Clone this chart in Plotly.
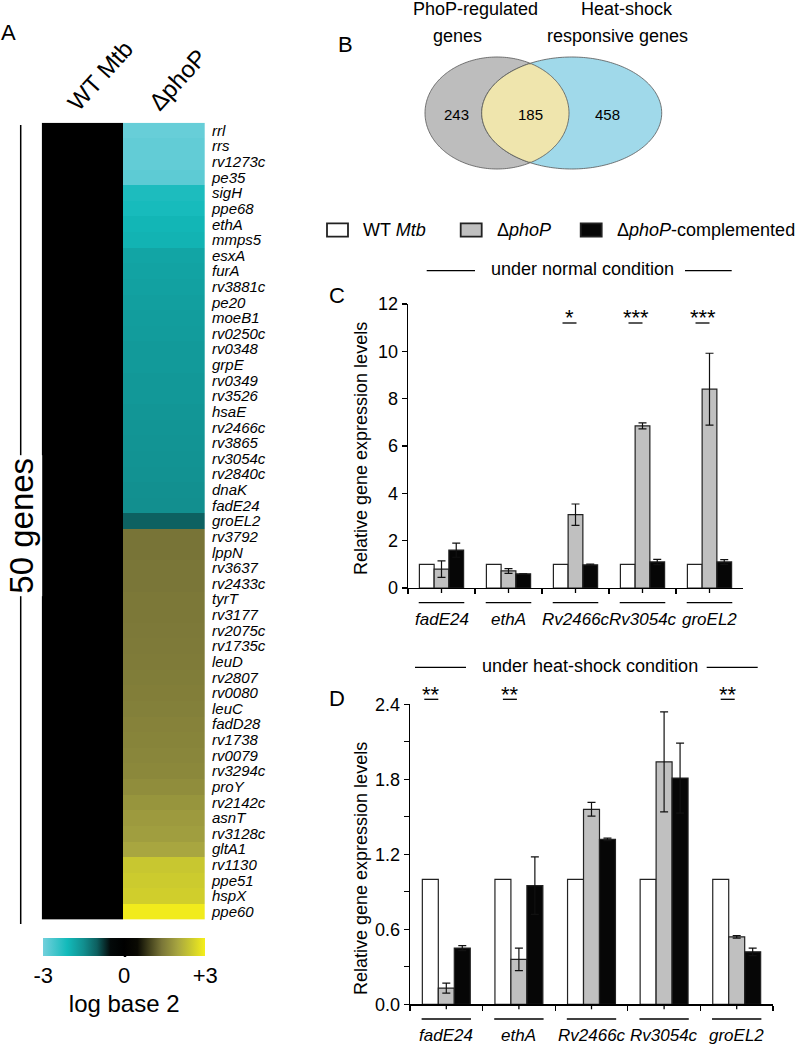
import numpy as np
import plotly.graph_objects as go

W, H = 800, 1046
def X(px): return px / W
def Y(py): return 1 - py / H

FONT = "Liberation Sans, Arial, sans-serif"

# ---------------- Panel A data ----------------
heat_columns = ["WT Mtb", "ΔphoP"]
heat_genes = ["rrl", "rrs", "rv1273c", "pe35", "sigH", "ppe68", "ethA", "mmps5", "esxA", "furA",
              "rv3881c", "pe20", "moeB1", "rv0250c", "rv0348", "grpE", "rv0349", "rv3526", "hsaE", "rv2466c",
              "rv3865", "rv3054c", "rv2840c", "dnaK", "fadE24", "groEL2", "rv3792", "lppN", "rv3637", "rv2433c",
              "tyrT", "rv3177", "rv2075c", "rv1735c", "leuD", "rv2807", "rv0080", "leuC", "fadD28", "rv1738",
              "rv0079", "rv3294c", "proY", "rv2142c", "asnT", "rv3128c", "gltA1", "rv1130", "ppe51", "hspX", "ppe60"]
heat_wt = [0, 0, 0, 0, 0, 0, 0, 0, 0, 0, 0, 0, 0, 0, 0, 0, 0, 0, 0, 0, 0, 0, 0, 0, 0, 0,
           0, 0, 0, 0, 0, 0, 0, 0, 0, 0, 0, 0, 0, 0, 0, 0, 0, 0, 0, 0, 0, 0, 0, 0, 0]
heat_phoP = [-2.9, -2.85, -2.85, -2.8, -2.2, -2.15, -2.05, -2.0, -1.8, -1.78,
             -1.75, -1.72, -1.7, -1.68, -1.66, -1.65, -1.63, -1.62, -1.6, -1.58,
             -1.57, -1.55, -1.54, -1.52, -1.5, -1.02, 1.38, 1.38, 1.4, 1.4,
             1.42, 1.42, 1.44, 1.45, 1.46, 1.48, 1.5, 1.52, 1.55, 1.57,
             1.6, 1.62, 1.68, 1.78, 1.85, 1.9, 2.0, 2.45, 2.5, 2.55, 2.95]
cbar_ticks = [-3, 0, 3]
cbar_ticktext = ["-3", "0", "+3"]

# ---------------- Panel B data ----------------
venn_titles = ["PhoP-regulated", "genes", "Heat-shock", "responsive genes"]
venn_counts = ["243", "185", "458"]

# ---------------- Panel C / D data ----------------
bar_genes = ["fadE24", "ethA", "Rv2466c", "Rv3054c", "groEL2"]
series_names = ["WT Mtb", "ΔphoP", "ΔphoP-complemented"]

normal_wt = [1.0, 1.0, 1.0, 1.0, 1.0]
normal_phoP = [0.8, 0.72, 3.1, 6.85, 8.4]
normal_phoP_err = [0.35, 0.1, 0.45, 0.13, 1.52]
normal_comp = [1.6, 0.6, 0.98, 1.1, 1.1]
normal_comp_err = [0.3, 0.0, 0.03, 0.11, 0.1]
normal_sig = ["", "", "*", "***", "***"]

heat_wt_bar = [1.0, 1.0, 1.0, 1.0, 1.0]
heat_phoP_bar = [0.13, 0.36, 1.56, 1.94, 0.54]
heat_phoP_err = [0.04, 0.09, 0.055, 0.4, 0.01]
heat_comp_bar = [0.45, 0.95, 1.32, 1.81, 0.42]
heat_comp_err = [0.02, 0.23, 0.01, 0.28, 0.03]
heat_sig = ["**", "**", "", "", "**"]

# colour scale for log2 fold change
colorscale = [
    [0.0, "#72d0dc"], [0.15, "#12baba"], [0.25, "#128f8f"], [0.333, "#0d5f5f"],
    [0.417, "#030909"], [0.5, "#000000"], [0.583, "#0a0a03"], [0.667, "#4a4820"],
    [0.733, "#7a7638"], [0.833, "#a8a640"], [0.917, "#cccb2e"], [1.0, "#f5ef1a"],
]

fig = go.Figure()

# ---------- heatmap ----------
fig.add_trace(go.Heatmap(
    x=heat_columns, y=heat_genes,
    z=[[a, b] for a, b in zip(heat_wt, heat_phoP)],
    zmin=-3, zmax=3, colorscale=colorscale, xaxis="x", yaxis="y",
    hoverinfo="skip",
    colorbar=dict(orientation="h", x=X(124.2), xanchor="center", y=Y(938.3), yanchor="top",
                  len=162, lenmode="pixels", thickness=18, thicknessmode="pixels",
                  xpad=0, ypad=0,
                  outlinewidth=0, tickmode="array", tickvals=cbar_ticks, ticktext=cbar_ticktext,
                  ticks="", tickfont=dict(size=22, color="black", family=FONT),
                  title=dict(text="log base 2", side="bottom", font=dict(size=24, color="black", family=FONT))),
))

# ---------- bars ----------
bar_line = dict(color="#222222", width=1.2)
def err(arr):
    return dict(type="data", array=arr, visible=True, color="#111111", thickness=1.2, width=4)

for xa, ya, wt, ph, phe, co, coe in [
    ("x2", "y2", normal_wt, normal_phoP, normal_phoP_err, normal_comp, normal_comp_err),
    ("x3", "y3", heat_wt_bar, heat_phoP_bar, heat_phoP_err, heat_comp_bar, heat_comp_err),
]:
    fig.add_trace(go.Bar(x=bar_genes, y=wt, name=series_names[0], xaxis=xa, yaxis=ya,
                         marker=dict(color="white", line=bar_line), showlegend=False))
    fig.add_trace(go.Bar(x=bar_genes, y=ph, name=series_names[1], xaxis=xa, yaxis=ya,
                         marker=dict(color="#c0c0c0", line=bar_line), error_y=err(phe), showlegend=False))
    fig.add_trace(go.Bar(x=bar_genes, y=co, name=series_names[2], xaxis=xa, yaxis=ya,
                         marker=dict(color="#060606", line=bar_line), error_y=err(coe), showlegend=False))

shapes = []
annotations = []

def text(x, y, t, size=18, xanchor="center", yanchor="middle", angle=0, xref="paper", yref="paper",
         family=FONT, **kw):
    annotations.append(dict(x=x, y=y, text=t, showarrow=False, xref=xref, yref=yref,
                            xanchor=xanchor, yanchor=yanchor, textangle=angle,
                            font=dict(size=size, color="black", family=family), **kw))

def hline(x0, x1, py, width=1.3, xref="paper"):
    shapes.append(dict(type="line", xref=xref, yref="paper", x0=x0, x1=x1, y0=Y(py), y1=Y(py),
                       line=dict(color="black", width=width)))

# ---------- panel A decorations ----------
text(X(8), Y(33), "A", size=22)
text(X(100), Y(75), "WT Mtb", size=24, angle=-48)
text(X(178), Y(80), "ΔphoP", size=24, angle=-48)
shapes.append(dict(type="line", xref="paper", yref="paper", x0=X(20.7), x1=X(20.7), y0=Y(125), y1=Y(924),
                   line=dict(color="black", width=1.5)))
text(X(20.7), Y(526), "50 genes", size=33, angle=-90, bgcolor="white", borderpad=2)
shapes.append(dict(type="line", xref="paper", yref="paper", x0=X(125), x1=X(125), y0=Y(951), y1=Y(957),
                   line=dict(color="black", width=2.5)))

# ---------- panel B : Venn ----------
text(X(345), Y(45), "B", size=22)
text(X(475), Y(9), venn_titles[0])
text(X(457), Y(36), venn_titles[1])
text(X(627), Y(9), venn_titles[2])
text(X(617), Y(36), venn_titles[3])

e1 = (497.0, 113.0, 72.0, 56.0)
e2 = (571.7, 113.0, 90.0, 56.0)
t = np.linspace(0, 2 * np.pi, 241)

def ell_pts(e):
    cx, cy, rx, ry = e
    return cx + rx * np.cos(t), cy + ry * np.sin(t)

def inside(e, x, y):
    cx, cy, rx, ry = e
    return ((x - cx) / rx) ** 2 + ((y - cy) / ry) ** 2 <= 1.0000001

def to_path(xs, ys):
    pts = [f"{X(a):.5f},{Y(b):.5f}" for a, b in zip(xs, ys)]
    return "M" + " L".join(pts) + " Z"

x1p, y1p = ell_pts(e1)
x2p, y2p = ell_pts(e2)
shapes.append(dict(type="path", xref="paper", yref="paper", path=to_path(x1p, y1p),
                   fillcolor="#bdbdbd", line=dict(color="#555555", width=0.8)))
shapes.append(dict(type="path", xref="paper", yref="paper", path=to_path(x2p, y2p),
                   fillcolor="#a0d9ea", line=dict(color="#555555", width=0.8)))
m1 = inside(e2, x1p, y1p)
m2 = inside(e1, x2p, y2p)
ix = np.concatenate([x1p[m1], x2p[m2]])
iy = np.concatenate([y1p[m1], y2p[m2]])
cxm, cym = ix.mean(), iy.mean()
order = np.argsort(np.arctan2(iy - cym, ix - cxm))
shapes.append(dict(type="path", xref="paper", yref="paper", path=to_path(ix[order], iy[order]),
                   fillcolor="#efe5ad", line=dict(color="#555555", width=0.8)))
for cnt, px in zip(venn_counts, [456.7, 530.7, 607.3]):
    text(X(px), Y(114), cnt, size=15)

# ---------- legend ----------
legend_boxes = [(327, "white"), (460.7, "#c0c0c0"), (580.7, "#060606")]
legend_texts = ["WT <i>Mtb</i>", "Δ<i>phoP</i>", "Δ<i>phoP</i>-complemented"]
for (bx, col), lt in zip(legend_boxes, legend_texts):
    shapes.append(dict(type="rect", xref="paper", yref="paper", x0=X(bx), x1=X(bx + 21),
                       y0=Y(236.7), y1=Y(223.3), fillcolor=col, line=dict(color="#222222", width=1.8)))
    text(X(bx + 34), Y(229.5), lt, size=18, xanchor="left")

# ---------- panel C decorations ----------
text(X(337), Y(296), "C", size=22)
text(X(582), Y(269.5), "under normal condition")
hline(X(426.7), X(475), 270.7)
hline(X(685), X(731.7), 270.7)
text(X(361), Y(449), "Relative gene expression levels", angle=-90)

# ---------- panel D decorations ----------
text(X(337), Y(698), "D", size=22)
text(X(590), Y(666), "under heat-shock condition")
hline(X(415), X(466), 667.3)
hline(X(706.7), X(757.7), 667.3)
text(X(361), Y(869), "Relative gene expression levels", angle=-90)

# gene labels, underlines, centre ticks and significance marks for C and D
for xref, base, sigs, shifts, sig_y in [
    ("x2", 588.0, normal_sig, [0, 0, -6, -7, -7], 323.0),
    ("x3", 1004.3, heat_sig, [-15, -9, 0, 0, -9], 699.3),
]:
    for i, g in enumerate(bar_genes):
        text(g, Y(base + 31), f"<i>{g}</i>", size=17, xref=xref)
        hline(i - 0.34, i + 0.34, base + 14.7, xref=xref)
        shapes.append(dict(type="line", xref=xref, yref="paper", x0=i, x1=i, y0=Y(base), y1=Y(base + 5),
                           line=dict(color="black", width=1.3)))
        if sigs[i]:
            text(g, Y(sig_y - 5), sigs[i], size=22, xref=xref, yanchor="middle", xshift=shifts[i])
            shapes.append(dict(type="line", xref=xref, yref="paper", xsizemode="pixel", xanchor=i,
                               x0=shifts[i] - 7, x1=shifts[i] + 7, y0=Y(sig_y), y1=Y(sig_y),
                               line=dict(color="black", width=1.3)))

axis_common = dict(showgrid=False, zeroline=False, showline=True, linecolor="black", linewidth=1.3,
                   ticks="outside", ticklen=5, tickwidth=1.3, tickcolor="black", automargin=False,
                   tickfont=dict(size=18, color="black", family=FONT))

fig.update_layout(
    template="none",
    width=W, height=H, margin=dict(l=0, r=0, t=0, b=0, pad=0, autoexpand=False),
    paper_bgcolor="white", plot_bgcolor="white", showlegend=False,
    font=dict(family=FONT, color="black"),
    barmode="group", bargap=0.34, bargroupgap=0,
    xaxis=dict(domain=[X(41.7), X(205)], anchor="y", showticklabels=False, showgrid=False,
               zeroline=False, ticks="", showline=False, automargin=False),
    yaxis=dict(domain=[Y(919.5), Y(122.7)], anchor="x", autorange="reversed", side="right",
               tickmode="array", tickvals=heat_genes, ticktext=[f"<i>{g}</i>" for g in heat_genes],
               tickfont=dict(size=15, color="black", family=FONT), ticks="", showgrid=False,
               zeroline=False, showline=False, ticklabelstandoff=6, automargin=False),
    xaxis2=dict(domain=[X(408), X(743)], anchor="y2", type="category", tickson="boundaries",
                showticklabels=False, **axis_common),
    yaxis2=dict(domain=[Y(588), Y(304)], anchor="x2", range=[0, 12], dtick=2, tick0=0, **axis_common),
    xaxis3=dict(domain=[X(410), X(773)], anchor="y3", type="category", tickson="boundaries",
                showticklabels=False, **axis_common),
    yaxis3=dict(domain=[Y(1004.3), Y(704.3)], anchor="x3", range=[0, 2.4], dtick=0.6, tick0=0,
                tickformat=".1f",
                minor=dict(dtick=0.3, tick0=0, ticks="outside", ticklen=5, tickwidth=1.3, tickcolor="black"),
                **axis_common),
    shapes=shapes, annotations=annotations,
)

fig.write_html("out.html",
               config={"displayModeBar": False, "staticPlot": True},
               post_script="document.body.style.margin='0px';document.body.style.padding='0px';"
                           "document.body.style.overflow='hidden';")
